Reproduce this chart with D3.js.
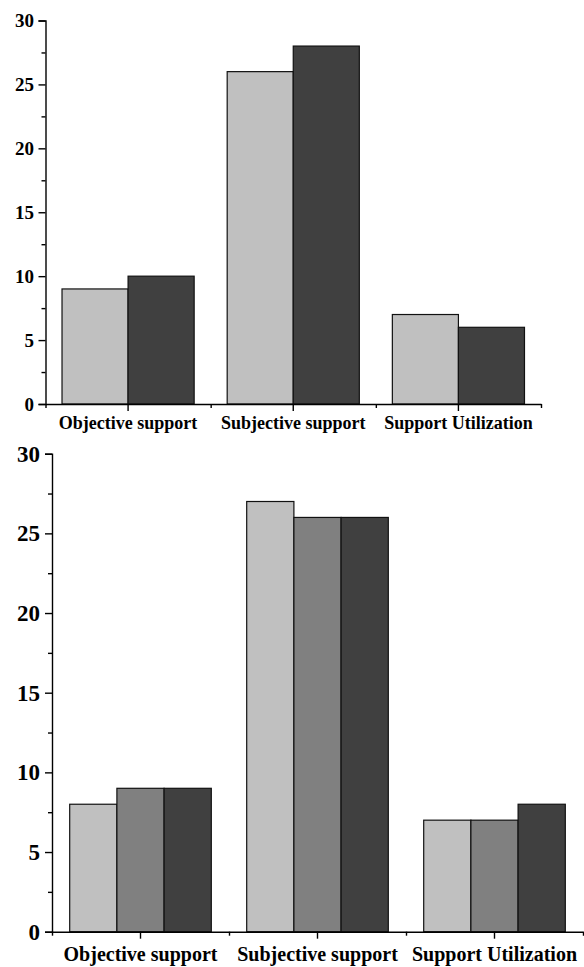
<!DOCTYPE html>
<html>
<head>
<meta charset="utf-8">
<script src="https://cdn.jsdelivr.net/npm/d3@7"></script>
<style>
  html, body { margin: 0; padding: 0; background: #fff; }
  svg { display: block; }
  text { font-family: "Liberation Serif", "Times New Roman", serif; font-weight: bold; fill: #000; }
</style>
</head>
<body>
<svg id="chart" width="584" height="967"></svg>
<script>
// Category labels shared by both panels
const categories = ["Objective support", "Subjective support", "Support Utilization"];

// Upper panel: two groups
const topSeries = ["A", "B"];
const topValues = [
  [9, 10],   // Objective support
  [26, 28],  // Subjective support
  [7, 6]     // Support Utilization
];

// Lower panel: three groups
const bottomSeries = ["A", "B", "C"];
const bottomValues = [
  [8, 9, 9],
  [27, 26, 26],
  [7, 7, 8]
];

const yMajorTicks = [0, 5, 10, 15, 20, 25, 30];
const yMinorTicks = [2.5, 7.5, 12.5, 17.5, 22.5, 27.5];

const fills = {A: "#c0c0c0", B: "#808080", C: "#404040"};
const topFills = {A: "#c0c0c0", B: "#404040"};

const svg = d3.select("#chart");

function panel(cfg) {
  const g = svg.append("g");
  const y = d3.scaleLinear().domain([0, 30]).range([cfg.bottom, cfg.top]);
  const x = d3.scaleBand().domain(categories).range([cfg.left, cfg.right]).padding(0);
  const xs = d3.scaleBand().domain(cfg.series)
    .range([x.bandwidth() * 0.1, x.bandwidth() * 0.9]).padding(0);

  // bars
  categories.forEach((c, i) => {
    g.selectAll(null)
      .data(cfg.series.map((s, j) => ({s, v: cfg.values[i][j]})))
      .enter().append("rect")
      .attr("x", d => x(c) + xs(d.s))
      .attr("y", d => y(d.v))
      .attr("width", xs.bandwidth())
      .attr("height", d => y(0) - y(d.v))
      .attr("fill", d => cfg.fills[d.s])
      .attr("stroke", "#111")
      .attr("stroke-width", 1.2);
  });

  // y axis: major ticks with labels
  const yAxis = g.append("g").attr("transform", `translate(${cfg.left},0)`)
    .call(d3.axisLeft(y).tickValues(yMajorTicks).tickFormat(d3.format("d"))
      .tickSize(7).tickPadding(cfg.yPad));
  yAxis.selectAll("text").style("font-size", cfg.tickFont + "px");
  // y axis: minor ticks
  g.append("g").attr("transform", `translate(${cfg.left},0)`)
    .call(d3.axisLeft(y).tickValues(yMinorTicks).tickFormat("").tickSize(4))
    .select(".domain").remove();

  // x axis: major ticks at group centres
  const xAxis = g.append("g").attr("transform", `translate(0,${cfg.bottom})`)
    .call(d3.axisBottom(x).tickSize(7).tickSizeOuter(0));
  xAxis.selectAll("text")
    .attr("y", cfg.labelY).attr("dy", "0")
    .style("font-size", cfg.catFont + "px");
  // x axis: minor ticks at group boundaries
  const bounds = d3.scaleLinear().domain([0, 3]).range([cfg.left, cfg.right]);
  g.append("g").attr("transform", `translate(0,${cfg.bottom})`)
    .call(d3.axisBottom(bounds).tickValues([0, 1, 2, 3]).tickFormat("").tickSize(4))
    .select(".domain").remove();

  g.selectAll(".domain, .tick line").attr("stroke", "#000").attr("stroke-width", 1.4);
}

panel({
  series: topSeries, values: topValues, fills: topFills,
  left: 45.5, right: 541, top: 20.5, bottom: 404,
  tickFont: 19, catFont: 18, yPad: 4.5, labelY: 25
});

panel({
  series: bottomSeries, values: bottomValues, fills: fills,
  left: 52, right: 583, top: 453.7, bottom: 931.7,
  tickFont: 23, catFont: 20, yPad: 5, labelY: 29
});
</script>
</body>
</html>
